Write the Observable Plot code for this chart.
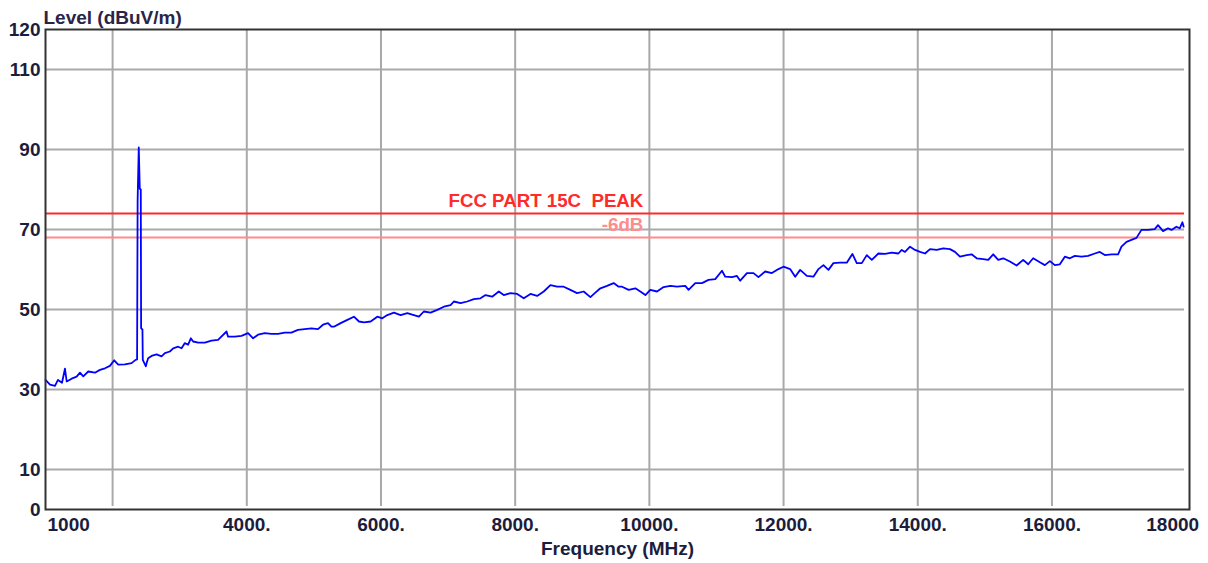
<!DOCTYPE html>
<html>
<head>
<meta charset="utf-8">
<script src="https://cdn.jsdelivr.net/npm/d3@7"></script>
<script src="https://cdn.jsdelivr.net/npm/@observablehq/plot@0.6"></script>
<style>
  html, body { margin: 0; padding: 0; background: #fff; }
  svg text { white-space: pre; }
</style>
</head>
<body>
<div id="chart"></div>
<script>
// Measured trace: frequency (MHz) and level (dBuV/m)
const freqMHz = [
  1000,1067,1141,1186,1246,1290,1316,1390,1464,1514,1563,1637,1737,1811,1886,1960,2024,2084,2184,2283,2343,
  2365,2373,2390,2405,2420,2425,2445,2450,2496,2507,2530,2581,2655,2730,2779,2853,2903,2977,3028,3077,3126,
  3166,3200,3275,3374,3474,3572,3698,3721,3821,3921,4019,4094,4168,4268,4367,4466,4565,4665,4763,4863,4963,
  5061,5136,5210,5261,5299,5399,5499,5597,5672,5746,5846,5945,6020,6094,6193,6292,6392,6490,6565,6639,6739,
  6839,6937,7037,7086,7186,7285,7384,7483,7558,7657,7756,7830,7930,8030,8128,8228,8327,8426,8525,8625,8723,
  8823,8923,9021,9121,9195,9270,9369,9468,9542,9593,9691,9791,9865,9940,10014,10114,10212,10312,10412,10535,
  10584,10684,10784,10882,10982,11082,11131,11231,11305,11354,11454,11552,11626,11726,11826,11924,11998,12098,
  12173,12247,12347,12445,12520,12594,12669,12743,12843,12942,13026,13091,13166,13240,13315,13413,13513,13612,
  13711,13761,13810,13885,13959,14034,14108,14183,14282,14380,14480,14555,14629,14729,14803,14878,14976,15051,
  15125,15199,15274,15373,15473,15571,15646,15720,15820,15894,15969,16043,16118,16192,16267,16341,16441,16539,
  16639,16713,16788,16888,16986,17036,17111,17185,17260,17334,17433,17532,17581,17656,17730,17781,17855,17904,
  17944,17963
];
const levelDb = [
  32.4,31.2,30.9,32.4,31.7,35.2,32.0,32.7,33.2,34.2,33.3,34.5,34.2,34.9,35.3,35.9,37.3,36.2,36.3,36.6,37.4,
  37.5,77.3,90.5,80.2,80.0,45.3,45.0,37.4,35.8,36.6,37.8,38.4,38.8,38.3,39.1,39.5,40.3,40.7,40.3,41.6,41.2,
  42.8,42.0,41.7,41.7,42.2,42.4,44.5,43.2,43.2,43.4,44.1,42.8,43.7,44.1,43.9,43.9,44.2,44.2,44.9,45.1,45.3,
  45.1,46.2,46.6,45.7,45.7,46.6,47.4,48.2,47.0,46.8,47.0,48.2,47.8,48.6,49.2,48.6,49.1,48.6,48.2,49.5,49.2,
  49.9,50.7,51.1,52.0,51.6,52.0,52.6,52.8,53.6,53.2,54.5,53.6,54.1,53.9,52.8,53.9,53.4,54.5,56.1,55.7,55.7,
  54.9,54.1,54.5,53.1,54.2,55.3,55.9,56.6,55.7,55.7,54.9,55.3,54.5,53.6,54.9,54.5,55.6,55.9,55.7,55.9,
  54.9,56.6,56.6,57.4,57.6,59.7,58.2,58.1,58.4,57.2,59.1,59.1,58.1,59.5,59.1,60.1,60.7,60.1,
  58.2,59.9,58.4,58.2,60.1,61.1,59.9,61.6,61.7,61.7,63.9,61.6,61.6,63.6,62.4,64.0,63.9,64.2,
  64.0,64.9,64.4,65.7,64.9,64.4,64.0,65.1,64.9,65.3,65.1,64.4,63.2,63.6,63.8,62.8,62.6,62.4,
  63.8,62.4,62.8,62.0,61.0,62.4,61.3,62.8,61.8,61.1,62.1,61.1,61.3,63.2,62.8,63.4,63.2,63.4,
  64.0,64.4,63.6,63.8,63.8,65.7,66.9,67.4,67.9,69.9,69.9,70.1,71.1,69.6,70.3,69.9,70.7,70.3,
  71.8,70.7
];

// Limit lines
const limitLevels = [74, 68];
const limitNames = ["FCC PART 15C  PEAK", "-6dB"];
const limitColors = ["#ff2a2a", "#ff8c8c"];
const limitLabelFreq = 9910;

// Axes
const xGrid = [2000, 4000, 6000, 8000, 10000, 12000, 14000, 16000];
const xMidTicks = [4000, 6000, 8000, 10000, 12000, 14000, 16000];
const xStartTick = [1000];
const xEndTick = [18000];
const yTicks = [0, 10, 30, 50, 70, 90, 110, 120];
const yGrid = [10, 30, 50, 70, 90, 110];
const yTitle = "Level (dBuV/m)";
const xTitle = "Frequency (MHz)";

const trace = freqMHz.map((f, i) => ({f, v: levelDb[i]}));
const limits = limitLevels.map((v, i) => ({v, name: limitNames[i], color: limitColors[i]}));

const textColor = "#1c1c3c";

const chart = Plot.plot({
  width: 1208,
  height: 563,
  marginLeft: 45,
  marginRight: 19,
  marginTop: 29,
  marginBottom: 54,
  x: {domain: [1000, 18050]},
  y: {domain: [0, 120]},
  style: {
    fontFamily: "'Liberation Sans', Arial, sans-serif",
    fontSize: "19px",
    fontWeight: "bold",
    background: "#fff",
    color: textColor
  },
  marks: [
    Plot.ruleX(xGrid, {stroke: "#a9a9a9", strokeWidth: 2, insetBottom: 3}),
    Plot.ruleY(yGrid, {stroke: "#a9a9a9", strokeWidth: 2, insetRight: 5}),
    Plot.ruleY(limits, {y: "v", stroke: "color", strokeWidth: 2, insetRight: 5}),
    Plot.line(trace, {x: "f", y: "v", stroke: "#0000ff", strokeWidth: 1.8}),
    Plot.frame({stroke: "#333", strokeWidth: 2}),
    Plot.text(limits, {
      x: () => limitLabelFreq, y: "v", text: "name", fill: "color",
      textAnchor: "end", lineAnchor: "bottom", dy: -7, fontSize: 18.7
    }),
    Plot.axisY(yTicks, {tickSize: 0, tickPadding: 5, label: null, fill: textColor}),
    Plot.axisX(xMidTicks, {tickSize: 0, tickPadding: 8, label: null, tickFormat: d => d + ".", fill: textColor}),
    Plot.text(xStartTick, {x: d => d, text: d => String(d), frameAnchor: "bottom", lineAnchor: "top", textAnchor: "start", dy: 8, dx: 2, fill: textColor}),
    Plot.text(xEndTick, {x: d => d, text: d => String(d), frameAnchor: "bottom", lineAnchor: "top", textAnchor: "end", dy: 8, dx: 13, fill: textColor}),
    Plot.text([yTitle], {frameAnchor: "top-left", textAnchor: "start", lineAnchor: "bottom", dy: -6, dx: -2, fill: "#2a2448"}),
    Plot.text([xTitle], {frameAnchor: "bottom", lineAnchor: "top", dy: 32, fill: textColor})
  ]
});
document.getElementById("chart").appendChild(chart);
</script>
</body>
</html>
